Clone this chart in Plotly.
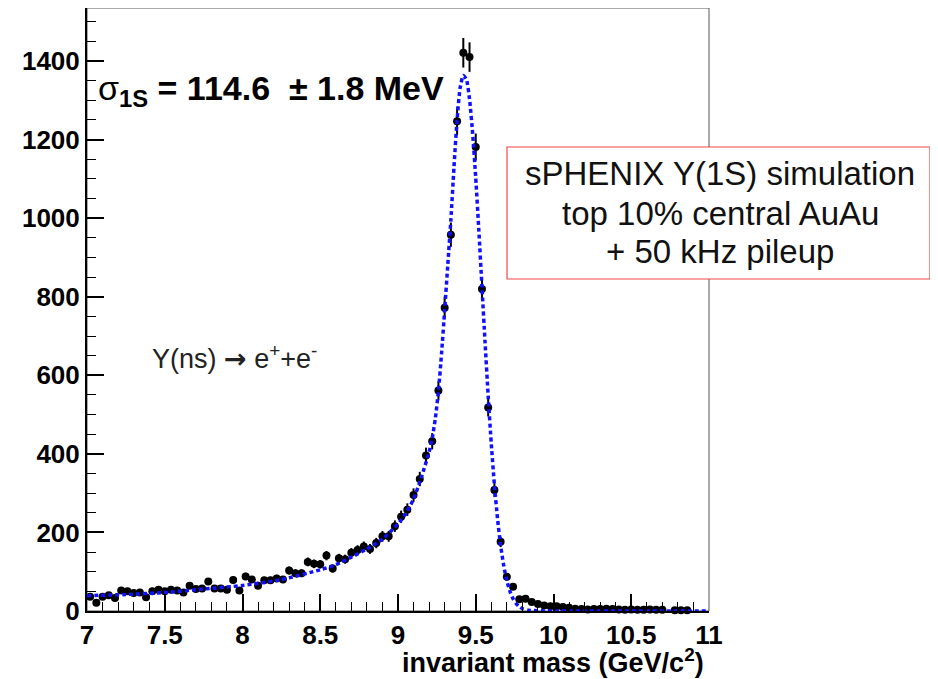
import numpy as np
import plotly.graph_objects as go

# ---------------- data ----------------
bin_centers = [round(7.02 + 0.04 * i, 2) for i in range(100)]
counts = [
    36, 21, 36, 40, 33, 52, 50, 46, 47, 35,
    50, 54, 50, 54, 52, 47, 64, 56, 57, 75,
    57, 57, 54, 79, 52, 88, 80, 64, 78, 78,
    83, 80, 103, 96, 96, 125, 120, 119, 141, 108,
    134, 132, 148, 155, 164, 158, 173, 190, 190, 216,
    240, 258, 295, 336, 396, 432, 561, 772, 958, 1247,
    1421, 1410, 1181, 820, 518, 308, 176, 87, 62, 30,
    31, 23, 18, 14, 12, 12, 10, 8, 6, 5,
    4, 5, 5, 6, 5, 4, 3, 4, 3, 3,
    4, 3, 3, None, 2, 2, 2, None, None, None,
]

fit_x = [7.0, 7.25, 7.5, 7.75, 8.0, 8.25, 8.5, 8.6, 8.7, 8.8, 8.9, 9.0,
         9.05, 9.1, 9.15, 9.2, 9.22, 9.24, 9.26, 9.28, 9.30, 9.32, 9.34,
         9.36, 9.38, 9.40, 9.42, 9.44, 9.46, 9.48, 9.50, 9.52, 9.54, 9.56,
         9.58, 9.60, 9.62, 9.64, 9.66, 9.68, 9.70, 9.72, 9.74, 9.76, 9.78,
         9.80, 9.84, 9.90, 10.0, 10.5, 11.0]
fit_y = [39, 42, 47, 56, 65, 80, 105, 118, 137, 158, 183, 222,
         248, 285, 340, 405, 440, 490, 560, 655, 765, 880, 995,
         1130, 1250, 1333, 1363, 1353, 1303, 1216, 1102, 968, 825, 683,
         547, 425, 321, 235, 167, 115, 77, 50, 31, 19, 11,
         6, 2, 0.5, 0, 0, 0]

x_ticks = [7, 7.5, 8, 8.5, 9, 9.5, 10, 10.5, 11]
x_tick_labels = ["7", "7.5", "8", "8.5", "9", "9.5", "10", "10.5", "11"]
y_ticks = [0, 200, 400, 600, 800, 1000, 1200, 1400]
y_tick_labels = ["0", "200", "400", "600", "800", "1000", "1200", "1400"]

box_lines = ["sPHENIX Y(1S) simulation", "top 10% central AuAu", "+ 50 kHz pileup"]

errors = [None if c is None else float(np.sqrt(c)) for c in counts]

FONT = "Liberation Sans, Arial, Helvetica, sans-serif"

# page offset of the figure inside the browser window (default body margin)
OFF = 8
FIG_W, FIG_H = 938, 679
# plot-area geometry in window pixels
L, R, T, B = 87, 709, 8, 611
W, H = R - L, B - T


def px_x(px):
    return (px - L) / W


def px_y(py):
    return (B - py) / H


fig = go.Figure()

fig.add_trace(go.Scatter(
    x=bin_centers, y=counts, mode="markers",
    marker=dict(color="black", size=8),
    error_y=dict(type="data", array=errors, visible=True,
                 thickness=2, width=0, color="black"),
    showlegend=False, cliponaxis=False,
))

fig.add_trace(go.Scatter(
    x=fit_x, y=fit_y, mode="lines",
    line=dict(color="#1010ff", width=3.5, dash="4px,3px", shape="spline",
              smoothing=0.6),
    showlegend=False,
))

fig.update_layout(
    width=FIG_W, height=FIG_H,
    margin=dict(l=L - OFF, r=FIG_W - (R - OFF), t=T - OFF, b=FIG_H - (B - OFF)),
    plot_bgcolor="white", paper_bgcolor="white",
    font=dict(family=FONT, color="black"),
)

fig.update_xaxes(
    range=[7, 11], tickmode="array", tickvals=x_ticks, ticktext=x_tick_labels,
    ticks="inside", ticklen=17, tickwidth=1.5, tickcolor="black",
    showline=True, linecolor="black", linewidth=2, mirror=False,
    showgrid=False, zeroline=False, automargin=False,
    tickfont=dict(family=FONT, size=26, weight="bold", color="black"),
    minor=dict(dtick=0.1, tick0=7, ticks="inside", ticklen=9, tickwidth=1.2,
               tickcolor="black", showgrid=False),
)
fig.update_yaxes(
    range=[0, 1535], tickmode="array", tickvals=y_ticks, ticktext=y_tick_labels,
    ticks="inside", ticklen=17, tickwidth=1.5, tickcolor="black",
    showline=True, linecolor="black", linewidth=2, mirror=False,
    showgrid=False, zeroline=False, automargin=False,
    tickfont=dict(family=FONT, size=26, weight="bold", color="black"),
    minor=dict(dtick=50, tick0=0, ticks="inside", ticklen=9, tickwidth=1.2,
               tickcolor="black", showgrid=False),
)

# frame (top / right)
fig.add_shape(type="rect", xref="paper", yref="paper", x0=0, x1=1, y0=0, y1=1,
              line=dict(color="#555555", width=1), layer="below")

# sigma label
fig.add_annotation(
    x=px_x(96), y=px_y(90), xref="paper", yref="paper", xanchor="left",
    yanchor="middle",
    text="σ<b><sub>1S</sub> = 114.6 &nbsp;± 1.8 MeV</b>", showarrow=False,
    font=dict(family=FONT, size=34, color="black"),
)

# info box
fig.add_shape(type="rect", xref="paper", yref="paper",
              x0=px_x(507), x1=px_x(930), y0=px_y(279), y1=px_y(147),
              line=dict(color="#f04848", width=1.2), fillcolor="white",
              layer="above")
for line_text, cy in zip(box_lines, [174, 213, 251]):
    fig.add_annotation(
        x=px_x(720), y=px_y(cy), xref="paper", yref="paper",
        xanchor="center", yanchor="middle", text=line_text, showarrow=False,
        font=dict(family=FONT, size=33, color="#111111"),
    )

# decay label
fig.add_annotation(
    x=px_x(150), y=px_y(357), xref="paper", yref="paper", xanchor="left",
    yanchor="middle",
    text="Y(ns) <span style=\"font-family:DejaVu Sans;font-weight:bold\">→</span> e<sup>+</sup>+e<sup>-</sup>",
    showarrow=False,
    font=dict(family=FONT, size=27, color="#222222"),
)

# x-axis title
fig.add_annotation(
    x=px_x(706), y=px_y(661), xref="paper", yref="paper", xanchor="right",
    yanchor="middle", text="<b>invariant mass (GeV/c<sup>2</sup>)</b>",
    showarrow=False, font=dict(family=FONT, size=27, color="black"),
)

fig.write_html("out.html")
